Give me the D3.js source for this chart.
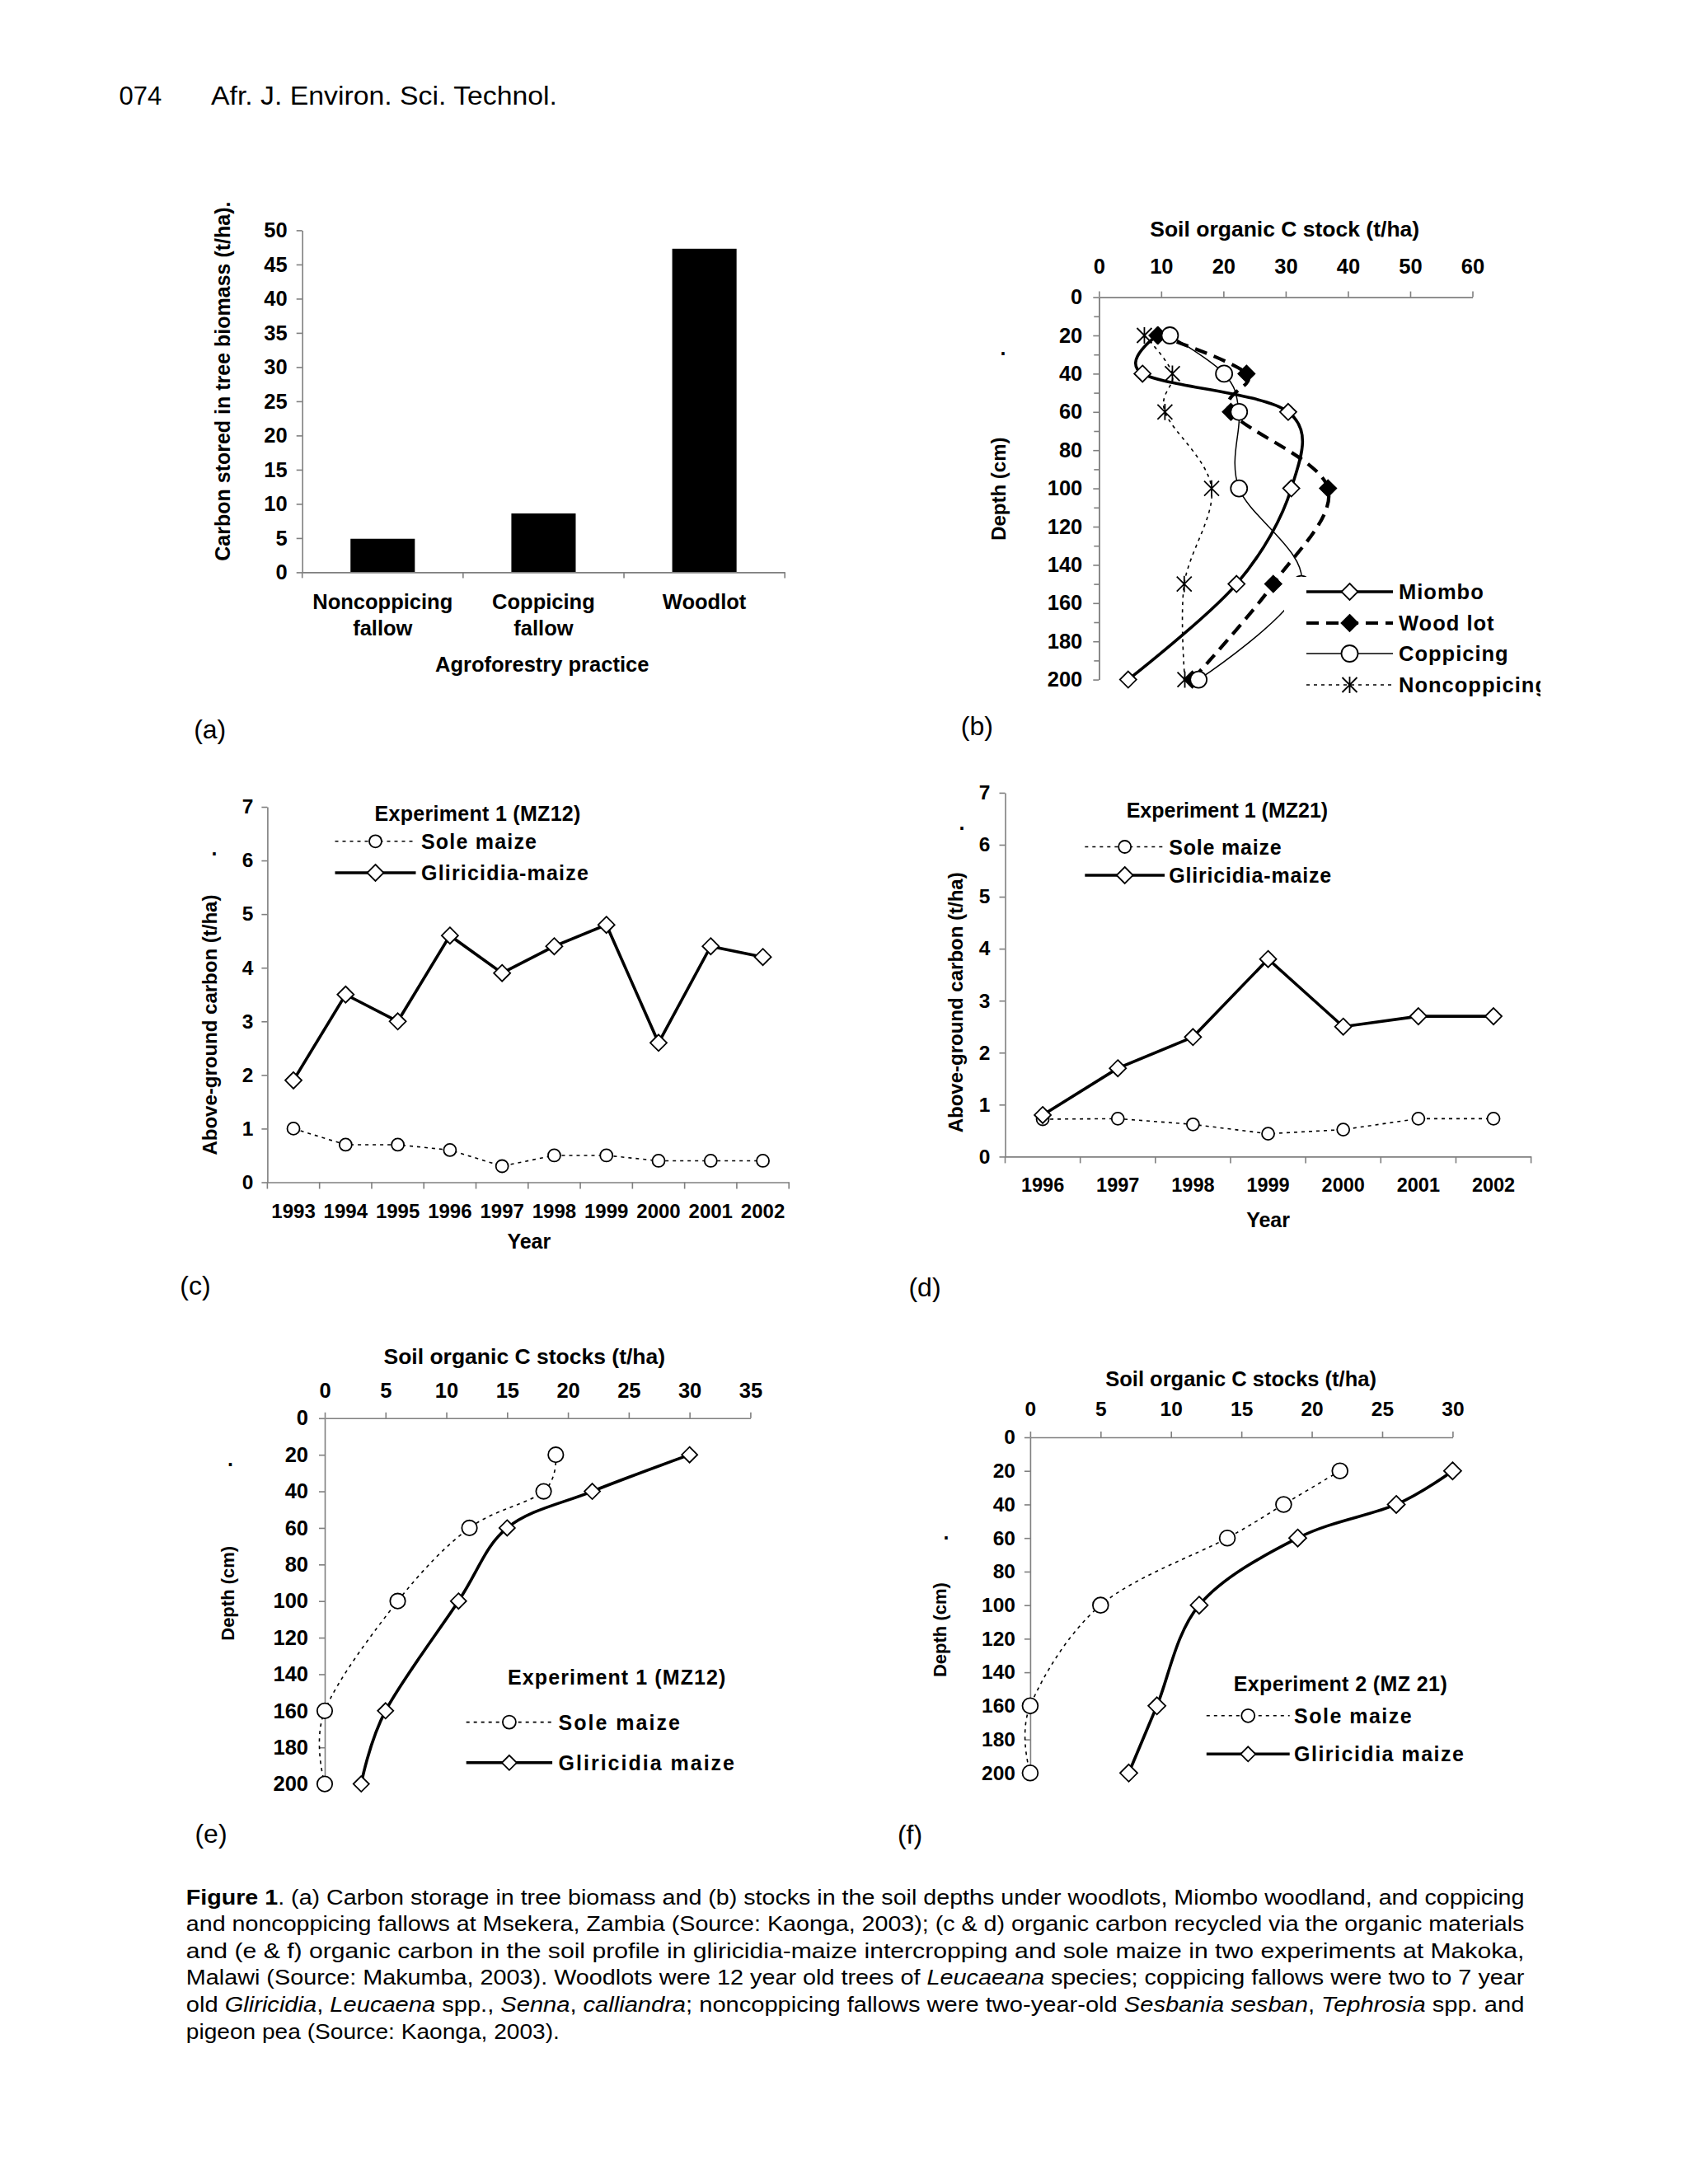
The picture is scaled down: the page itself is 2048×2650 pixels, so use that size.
<!DOCTYPE html>
<html><head><meta charset="utf-8">
<script src="https://cdn.jsdelivr.net/npm/d3@7"></script>
<style>
body{margin:0;background:#fff;}
svg{display:block;}
</style></head><body>
<svg id="page" width="2048" height="2650"></svg>
<script>
// ---------------- DATA ----------------
// (a) carbon stored in tree biomass
const practices = ["Noncoppicing fallow", "Coppicing fallow", "Woodlot"];
const treeCarbon = [4.9, 8.6, 47.3];
const aTicks = [0, 5, 10, 15, 20, 25, 30, 35, 40, 45, 50];

// (b) soil organic C stock by depth
const depthsB = [20, 40, 60, 100, 150, 200];
const miombo = [9.4, 7.0, 30.4, 30.9, 22.1, 4.7];
const woodLot = [9.5, 23.7, 21.2, 36.8, 28.0, 15.0];
const coppicing = [11.4, 20.1, 22.5, 22.5, 32.5, 16.0];
const noncoppicing = [7.3, 11.8, 10.6, 18.1, 13.7, 13.8];
const bXTicks = [0, 10, 20, 30, 40, 50, 60];
const bYMinor = [10, 30, 50, 70, 90, 110, 130, 150, 170, 190];
const depthTicks = [0, 20, 40, 60, 80, 100, 120, 140, 160, 180, 200];

// (c) above-ground carbon, experiment 1 (MZ12)
const yearsC = ["1993", "1994", "1995", "1996", "1997", "1998", "1999", "2000", "2001", "2002"];
const soleC = [1.0, 0.7, 0.7, 0.6, 0.3, 0.5, 0.5, 0.4, 0.4, 0.4];
const glirC = [1.9, 3.5, 3.0, 4.6, 3.9, 4.4, 4.8, 2.6, 4.4, 4.2];

// (d) above-ground carbon, experiment 1 (MZ21)
const yearsD = ["1996", "1997", "1998", "1999", "2000", "2001", "2002"];
const soleD = [0.72, 0.73, 0.62, 0.44, 0.52, 0.73, 0.73];
const glirD = [0.8, 1.7, 2.3, 3.8, 2.5, 2.7, 2.7];
const cdYTicks = [0, 1, 2, 3, 4, 5, 6, 7];

// (e) soil organic C stocks, experiment 1 (MZ12)
const depthsEF = [20, 40, 60, 100, 160, 200];
const soleE = [19.0, 18.0, 11.9, 6.0, 0, 0];
const glirE = [30.0, 22.0, 15.0, 11.0, 5.0, 3.0];
const eXTicks = [0, 5, 10, 15, 20, 25, 30, 35];

// (f) soil organic C stocks, experiment 2 (MZ 21)
const soleF = [22.0, 18.0, 14.0, 5.0, 0, 0];
const glirF = [30.0, 26.0, 19.0, 12.0, 9.0, 7.0];
const fXTicks = [0, 5, 10, 15, 20, 25, 30];

// ---------------- HELPERS ----------------
const FONT = "'Liberation Sans', Arial, Helvetica, sans-serif";
const AX = "#7f7f7f";
const fmtInt = d3.format("d");
const svg = d3.select("#page");
svg.append("rect").attr("width", 2048).attr("height", 2650).attr("fill", "#fff");

function txt(g, x, y, s, o = {}) {
  const t = g.append("text").attr("x", x).attr("y", y).text(s)
    .attr("font-family", FONT).attr("font-size", o.size || 25)
    .attr("font-weight", o.weight || "bold")
    .attr("text-anchor", o.anchor || "middle")
    .attr("dominant-baseline", "central").attr("fill", "#000");
  if (o.ls) t.attr("letter-spacing", o.ls);
  if (o.rotate) t.attr("transform", `rotate(-90,${x},${y})`);
  return t;
}
function styleAxis(g, size) {
  g.attr("font-family", FONT).attr("font-size", size).attr("font-weight", "bold");
  g.select(".domain").attr("stroke", AX).attr("stroke-width", 1.6);
  g.selectAll(".tick line").attr("stroke", AX).attr("stroke-width", 1.6);
  g.selectAll(".tick text").attr("fill", "#000");
  return g;
}
const STYLES = {
  bold: { w: 3.6, dash: null },
  thin: { w: 1.5, dash: null },
  dotted: { w: 1.6, dash: "4,5" },
  dashed: { w: 4.2, dash: "15,9" }
};
function styleLine(p, st) {
  const s = STYLES[st];
  p.attr("fill", "none").attr("stroke", "#000").attr("stroke-width", s.w);
  if (s.dash) p.attr("stroke-dasharray", s.dash);
  return p;
}
function marker(g, type, x, y, s) {
  if (type === "circle") {
    g.append("circle").attr("cx", x).attr("cy", y).attr("r", s)
      .attr("fill", "#fff").attr("stroke", "#000").attr("stroke-width", 1.8);
  } else if (type === "diamond" || type === "fdiamond") {
    g.append("path").attr("d", `M${x},${y - s}L${x + s},${y}L${x},${y + s}L${x - s},${y}Z`)
      .attr("fill", type === "fdiamond" ? "#000" : "#fff")
      .attr("stroke", "#000").attr("stroke-width", 1.8);
  } else if (type === "star") {
    g.append("path").attr("d",
      `M${x - s},${y - s}L${x + s},${y + s}M${x - s},${y + s}L${x + s},${y - s}M${x},${y - s * 1.1}L${x},${y + s * 1.1}`)
      .attr("fill", "none").attr("stroke", "#000").attr("stroke-width", 1.8);
  }
}
function series(g, pts, st, mk, ms, curve) {
  const line = d3.line().x(d => d[0]).y(d => d[1]).curve(curve);
  styleLine(g.append("path").attr("d", line(pts)), st);
  pts.forEach(p => marker(g, mk, p[0], p[1], ms));
}
function legendRow(g, x1, x2, y, st, mk, ms, label, tx, size, ls) {
  styleLine(g.append("path").attr("d", `M${x1},${y}L${x2},${y}`), st);
  marker(g, mk, (x1 + x2) / 2, y, ms);
  txt(g, tx, y, label, { anchor: "start", size: size, ls: ls });
}
const smooth = d3.curveCatmullRom.alpha(0);

// ---------------- HEADER ----------------
txt(svg, 144.6, 116.7, "074", { anchor: "start", weight: "normal", size: 31 });
txt(svg, 256, 116.7, "Afr. J. Environ. Sci. Technol.", { anchor: "start", weight: "normal", size: 31 })
  .attr("textLength", 420).attr("lengthAdjust", "spacingAndGlyphs");

// ---------------- PANEL (a) ----------------
{
  const g = svg.append("g");
  const x = d3.scaleBand().domain(practices).range([366.7, 952.2]).paddingInner(0.6).paddingOuter(0.3);
  const y = d3.scaleLinear().domain([0, 50]).range([694.4, 279.4]);
  g.selectAll("rect.bar").data(practices).join("rect").attr("class", "bar")
    .attr("x", d => x(d)).attr("width", x.bandwidth())
    .attr("y", (d, i) => y(treeCarbon[i])).attr("height", (d, i) => y(0) - y(treeCarbon[i]))
    .attr("fill", "#000");
  styleAxis(g.append("g").attr("transform", `translate(${x.range()[0]},0)`)
    .call(d3.axisLeft(y).tickValues(aTicks).tickFormat(fmtInt).tickSize(7).tickSizeOuter(0).tickPadding(11)), 25.5);
  const bx = g.append("g").attr("transform", `translate(0,${y(0)})`)
    .call(d3.axisBottom(x).tickSize(0).tickSizeOuter(0).tickFormat(""));
  styleAxis(bx, 25);
  const bounds = practices.map(d => x(d) + x.bandwidth() / 2 - x.step() / 2)
    .concat([x(practices[practices.length - 1]) + x.bandwidth() / 2 + x.step() / 2]);
  bounds.forEach(b => g.append("line").attr("x1", b).attr("x2", b).attr("y1", y(0)).attr("y2", y(0) + 7)
    .attr("stroke", AX).attr("stroke-width", 1.6));
  practices.forEach(d => {
    d.split(" ").forEach((w, j) => txt(g, x(d) + x.bandwidth() / 2, 730 + j * 32.2, w, { size: 25.5 }));
  });
  txt(g, 657.7, 806.4, "Agroforestry practice", { size: 25.5 });
  txt(g, 269.7, 462.6, "Carbon stored in tree biomass (t/ha).", { size: 25, rotate: true });
  txt(g, 254.7, 884.5, "(a)", { weight: "normal", size: 32 });
}

// ---------------- PANEL (b) ----------------
{
  const defs = svg.append("defs");
  defs.append("clipPath").attr("id", "clipB").append("rect")
    .attr("x", 1090).attr("y", 240).attr("width", 779).attr("height", 640);
  const g = svg.append("g").attr("clip-path", "url(#clipB)");
  const x = d3.scaleLinear().domain([0, 60]).range([1333.3, 1786.5]);
  const y = d3.scaleLinear().domain([0, 200]).range([360.6, 824.6]);
  const top = styleAxis(g.append("g").attr("transform", `translate(0,${y(0)})`)
    .call(d3.axisTop(x).tickValues(bXTicks).tickFormat(fmtInt).tickSize(7).tickSizeOuter(0)), 25.5);
  top.selectAll(".tick text").attr("y", 322.5 - y(0)).attr("dy", null).attr("dominant-baseline", "central");
  styleAxis(g.append("g").attr("transform", `translate(${x(0)},0)`)
    .call(d3.axisLeft(y).tickValues(bYMinor).tickSize(6).tickSizeOuter(0).tickFormat("")), 25);
  styleAxis(g.append("g").attr("transform", `translate(${x(0)},0)`)
    .call(d3.axisLeft(y).tickValues(depthTicks).tickFormat(fmtInt).tickSize(7).tickSizeOuter(0).tickPadding(13)), 25.5);
  txt(g, 1558.7, 278, "Soil organic C stock (t/ha)", { size: 26.5 });
  txt(g, 1212, 593.2, "Depth (cm)", { size: 24, rotate: true });
  txt(g, 1217, 422, ".", { size: 25 });
  const pts = arr => depthsB.map((d, i) => [x(arr[i]), y(d)]);
  series(g, pts(miombo), "bold", "diamond", 10, smooth);
  series(g, pts(woodLot), "dashed", "fdiamond", 10, smooth);
  series(g, pts(coppicing), "thin", "circle", 10, smooth);
  series(g, pts(noncoppicing), "dotted", "star", 9, smooth);
  const lg = g.append("g");
  lg.append("rect").attr("x", 1558).attr("y", 700).attr("width", 330).attr("height", 150).attr("fill", "#fff");
  legendRow(lg, 1585, 1690, 718, "bold", "diamond", 10, "Miombo", 1697, 25.5, 1);
  legendRow(lg, 1585, 1690, 756, "dashed", "fdiamond", 10, "Wood lot", 1697, 25.5, 1);
  legendRow(lg, 1585, 1690, 793, "thin", "circle", 10, "Coppicing", 1697, 25.5, 1);
  legendRow(lg, 1585, 1690, 831, "dotted", "star", 9, "Noncoppicing", 1697, 25.5, 1);
  txt(svg, 1185.4, 881, "(b)", { weight: "normal", size: 32 });
}

// ---------------- PANELS (c) & (d) ----------------
function yearPanel(cfg) {
  const g = svg.append("g");
  const x = d3.scaleBand().domain(cfg.years).range(cfg.xr).padding(0);
  const y = d3.scaleLinear().domain([0, 7]).range(cfg.yr);
  styleAxis(g.append("g").attr("transform", `translate(${cfg.xr[0]},0)`)
    .call(d3.axisLeft(y).tickValues(cdYTicks).tickFormat(fmtInt).tickSize(7).tickSizeOuter(0).tickPadding(cfg.pad)), 24.5);
  styleAxis(g.append("g").attr("transform", `translate(0,${y(0)})`)
    .call(d3.axisBottom(x).tickSize(0).tickSizeOuter(0).tickFormat("")), 24);
  cfg.years.concat(["end"]).forEach((d, i) => {
    const b = i < cfg.years.length ? x(d) : x.range()[1];
    g.append("line").attr("x1", b).attr("x2", b).attr("y1", y(0)).attr("y2", y(0) + 8)
      .attr("stroke", AX).attr("stroke-width", 1.6);
  });
  cfg.years.forEach(d => txt(g, x(d) + x.bandwidth() / 2, cfg.labY, d, { size: cfg.labSize }));
  txt(g, cfg.yearPos[0], cfg.yearPos[1], "Year", { size: 25 });
  txt(g, cfg.ytPos[0], cfg.ytPos[1], "Above-ground carbon (t/ha)", { size: 24, rotate: true });
  txt(g, cfg.dot[0], cfg.dot[1], ".", { size: 25 });
  const pts = arr => cfg.years.map((d, i) => [x(d) + x.bandwidth() / 2, y(arr[i])]);
  series(g, pts(cfg.sole), "dotted", "circle", 7.5, d3.curveLinear);
  series(g, pts(cfg.glir), "bold", "diamond", 10, d3.curveLinear);
  txt(g, cfg.lt[0], cfg.lt[1], cfg.title, { size: 25, ls: cfg.tls });
  legendRow(g, cfg.lx[0], cfg.lx[1], cfg.rows[0], "dotted", "circle", 7.5, "Sole maize", cfg.tx, 25, cfg.ls);
  legendRow(g, cfg.lx[0], cfg.lx[1], cfg.rows[1], "bold", "diamond", 10, "Gliricidia-maize", cfg.tx, 25, cfg.ls);
  txt(svg, cfg.tag[0], cfg.tag[1], cfg.tagText, { weight: "normal", size: 32 });
}
yearPanel({
  years: yearsC, sole: soleC, glir: glirC, xr: [324.4, 957.2], yr: [1434.5, 979], pad: 10,
  labY: 1469.3, labSize: 24, yearPos: [641.8, 1506.3], ytPos: [254.7, 1243.6], dot: [260, 1029],
  title: "Experiment 1 (MZ12)", tls: 0.3, lt: [579.6, 987.2], lx: [406.5, 504.5], rows: [1020.8, 1059],
  tx: 511, ls: 1.2, tag: [237, 1559.6], tagText: "(c)"
});
yearPanel({
  years: yearsD, sole: soleD, glir: glirD, xr: [1219.5, 1857.6], yr: [1403.4, 961.9], pad: 11,
  labY: 1437.8, labSize: 23.5, yearPos: [1538.6, 1480.1], ytPos: [1160, 1216.3], dot: [1167, 998],
  title: "Experiment 1 (MZ21)", tls: 0, lt: [1488.9, 982.8], lx: [1316.3, 1413], rows: [1027.5, 1062],
  tx: 1418.3, ls: 0.8, tag: [1122, 1562], tagText: "(d)"
});

// ---------------- PANELS (e) & (f) ----------------
function depthPanel(cfg) {
  const g = svg.append("g");
  const x = d3.scaleLinear().domain([0, cfg.xTicks[cfg.xTicks.length - 1]]).range(cfg.xr);
  const y = d3.scaleLinear().domain([0, 200]).range(cfg.yr);
  const top = styleAxis(g.append("g").attr("transform", `translate(0,${y(0)})`)
    .call(d3.axisTop(x).tickValues(cfg.xTicks).tickFormat(fmtInt).tickSize(7).tickSizeOuter(0)), cfg.tickSize);
  top.selectAll(".tick text").attr("y", cfg.xLabY - y(0)).attr("dy", null).attr("dominant-baseline", "central");
  styleAxis(g.append("g").attr("transform", `translate(${x(0)},0)`)
    .call(d3.axisLeft(y).tickValues(depthTicks).tickFormat(fmtInt).tickSize(7).tickSizeOuter(0).tickPadding(cfg.pad)), cfg.tickSize);
  txt(g, cfg.titlePos[0], cfg.titlePos[1], "Soil organic C stocks (t/ha)", { size: cfg.titleSize });
  txt(g, cfg.ytPos[0], cfg.ytPos[1], "Depth (cm)", { size: 22, rotate: true });
  txt(g, cfg.dot[0], cfg.dot[1], ".", { size: 25 });
  const pts = arr => depthsEF.map((d, i) => [x(arr[i]), y(d)]);
  series(g, pts(cfg.sole), "dotted", "circle", cfg.cr, smooth);
  series(g, pts(cfg.glir), "bold", "diamond", cfg.dr, smooth);
  txt(g, cfg.lt[0], cfg.lt[1], cfg.title, { size: 25, ls: cfg.tls });
  legendRow(g, cfg.lx[0], cfg.lx[1], cfg.rows[0], "dotted", "circle", 8, "Sole maize", cfg.tx, 25, cfg.ls);
  legendRow(g, cfg.lx[0], cfg.lx[1], cfg.rows[1], "bold", "diamond", 9, "Gliricidia maize", cfg.tx, 25, cfg.ls);
  txt(svg, cfg.tag[0], cfg.tag[1], cfg.tagText, { weight: "normal", size: 32 });
}
depthPanel({
  sole: soleE, glir: glirE, xTicks: eXTicks, xr: [394, 910.4], yr: [1720.8, 2164.6],
  tickSize: 25.5, xLabY: 1686.7, pad: 13, titlePos: [636.3, 1645.8], titleSize: 26.5,
  ytPos: [277, 1933.3], dot: [279.6, 1770], cr: 9.2, dr: 9.5,
  title: "Experiment 1 (MZ12)", tls: 1.1, lt: [748.8, 2034.6], lx: [565.7, 670.1], rows: [2089.6, 2138.8],
  tx: 677.6, ls: 2, tag: [256, 2225], tagText: "(e)"
});
depthPanel({
  sole: soleF, glir: glirF, xTicks: fXTicks, xr: [1249.9, 1762.4], yr: [1744, 2151.3],
  tickSize: 24.5, xLabY: 1709.7, pad: 11, titlePos: [1505.6, 1672.5], titleSize: 25.5,
  ytPos: [1141, 1977.6], dot: [1147.9, 1859], cr: 9.4, dr: 10.5,
  title: "Experiment 2 (MZ 21)", tls: 0.4, lt: [1626.4, 2043], lx: [1463.8, 1564.7], rows: [2081.8, 2128.3],
  tx: 1570, ls: 1.5, tag: [1104, 2226], tagText: "(f)"
});

// ---------------- CAPTION ----------------
{
  const capLines = [
    [["b", "Figure 1"], ["n", ". (a) Carbon storage in tree biomass and (b) stocks in the soil depths under woodlots, Miombo woodland, and coppicing"]],
    [["n", "and noncoppicing fallows at Msekera, Zambia (Source: Kaonga, 2003); (c & d) organic carbon recycled via the organic materials"]],
    [["n", "and (e & f) organic carbon in the soil profile in gliricidia-maize intercropping and sole maize in two experiments at Makoka,"]],
    [["n", "Malawi (Source: Makumba, 2003). Woodlots were 12 year old trees of "], ["i", "Leucaeana"], ["n", " species; coppicing fallows were two to 7 year"]],
    [["n", "old "], ["i", "Gliricidia"], ["n", ", "], ["i", "Leucaena"], ["n", " spp., "], ["i", "Senna"], ["n", ", "], ["i", "calliandra"], ["n", "; noncoppicing fallows were two-year-old "], ["i", "Sesbania sesban"], ["n", ", "], ["i", "Tephrosia"], ["n", " spp. and"]],
    [["n", "pigeon pea (Source: Kaonga, 2003)."]]
  ];
  const capY = [2301.7, 2334.3, 2366.7, 2399.3, 2432.3, 2465];
  const capLen = [1623.6, 1623.6, 1623.6, 1623.6, 1623.6, 453];
  capLines.forEach((parts, i) => {
    const t = svg.append("text").attr("x", 225.8).attr("y", capY[i])
      .attr("font-family", FONT).attr("font-size", 25.5).attr("dominant-baseline", "central")
      .attr("fill", "#000").attr("textLength", capLen[i]).attr("lengthAdjust", "spacingAndGlyphs")
      .attr("xml:space", "preserve").style("white-space", "pre");
    parts.forEach(([k, s]) => {
      const sp = t.append("tspan").text(s);
      if (k === "b") sp.attr("font-weight", "bold");
      if (k === "i") sp.attr("font-style", "italic");
    });
  });
}
</script>
</body></html>
